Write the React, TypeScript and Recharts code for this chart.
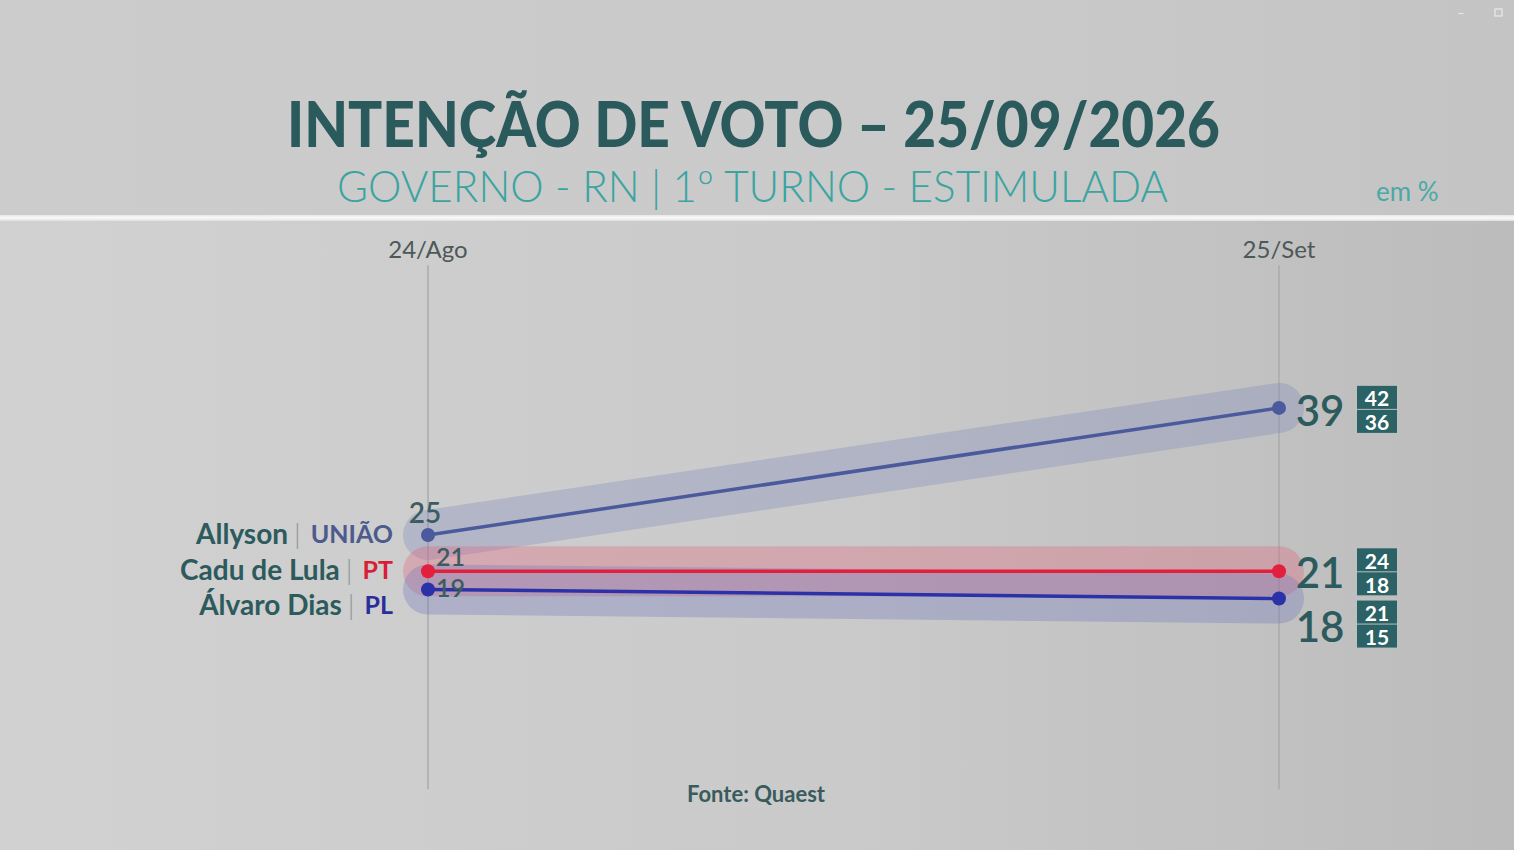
import { LineChart, Line, XAxis, YAxis, ReferenceLine, LabelList } from 'recharts';

const dates = ['24/Ago', '25/Set'];
const allyson = [25, 39];
const cadu = [21, 21];
const alvaro = [19, 18];

// margin of error at the last survey (upper / lower)
const upperBound = [42, 24, 21];
const lowerBound = [36, 18, 15];

const candidates = [
    { key: 'allyson', name: 'Allyson', party: 'UNIÃO', values: allyson },
    { key: 'cadu', name: 'Cadu de Lula', party: 'PT', values: cadu },
    { key: 'alvaro', name: 'Álvaro Dias', party: 'PL', values: alvaro },
];

const chartData = dates.map((date, i) => ({
    date,
    allyson: allyson[i],
    cadu: cadu[i],
    alvaro: alvaro[i],
}));

const TEAL_DARK = '#2c5a5d';
const FONT = 'Lato, "Open Sans", sans-serif';

// styling per candidate (colours, label offsets)
const styles: Record<string, any> = {
    allyson: {
        line: '#4b5a9c', band: '#8088bb', partyColor: '#4c5a8e',
        nameDy: -2, startX: -3, startDy: -23, startAnchor: 'middle',
        endDy: 2, boxDy: -22,
    },
    cadu: {
        line: '#e21f3c', band: '#e4607a', partyColor: '#d81f35',
        nameDy: -2, startX: 8, startDy: -15, startAnchor: 'start',
        endDy: 1, boxDy: -23,
    },
    alvaro: {
        line: '#2b31a6', band: '#7075c0', partyColor: '#2a2e9a',
        nameDy: 15, startX: 8, startDy: -2, startAnchor: 'start',
        endDy: 27, boxDy: 2,
    },
};

function makeLabel(idx: number) {
    const c = candidates[idx];
    const s = styles[c.key];
    return (props: any) => {
        const { x, y, index, value } = props;
        if (index === 0) {
            return (
                <g>
                    <text
                        x={x - 35}
                        y={y + s.nameDy}
                        textAnchor="end"
                        dominantBaseline="central"
                        fontFamily={FONT}
                        fontWeight={700}
                        fontSize={28}
                        fill={TEAL_DARK}
                    >
                        <tspan>{c.name}</tspan>
                        <tspan fill="#8a9596" fontWeight={300} dx={6}>|</tspan>
                        <tspan fill={s.partyColor} dx={10} fontSize={25}>{c.party}</tspan>
                    </text>
                    <text
                        x={x + s.startX}
                        y={y + s.startDy}
                        textAnchor={s.startAnchor}
                        dominantBaseline="central"
                        fontFamily={FONT}
                        fontWeight={600}
                        fontSize={idx === 0 ? 28 : 25}
                        fill="#3b5d61"
                    >
                        {value}
                    </text>
                </g>
            );
        }
        const boxX = x + 78;
        const boxY = y + s.boxDy;
        return (
            <g>
                <text
                    x={x + 41}
                    y={y + s.endDy}
                    textAnchor="middle"
                    dominantBaseline="central"
                    fontFamily={FONT}
                    fontWeight={600}
                    fontSize={42}
                    fill={TEAL_DARK}
                >
                    {value}
                </text>
                <rect x={boxX} y={boxY} width={40} height={23} fill="#2b6265" />
                <rect x={boxX} y={boxY + 24} width={40} height={23} fill="#2b6265" />
                <text x={boxX + 20} y={boxY + 12} textAnchor="middle" dominantBaseline="central"
                    fontFamily={FONT} fontWeight={700} fontSize={21} fill="#ffffff">
                    {upperBound[idx]}
                </text>
                <text x={boxX + 20} y={boxY + 36} textAnchor="middle" dominantBaseline="central"
                    fontFamily={FONT} fontWeight={700} fontSize={21} fill="#ffffff">
                    {lowerBound[idx]}
                </text>
            </g>
        );
    };
}

export default function App() {
    return (
        <div
            style={{
                position: 'fixed',
                left: 0,
                top: 0,
                width: 1514,
                height: 850,
                overflow: 'hidden',
                background: 'linear-gradient(90deg, #d0d1d0 0%, #c9cac9 55%, #bbbcbb 100%)',
            }}
        >
            {/* header band */}
            <div style={{ position: 'absolute', left: 0, top: 0, width: 1514, height: 217, background: 'linear-gradient(90deg, #cbcccb 0%, #c9cac9 60%, #c3c4c3 100%)' }} />
            <div style={{ position: 'absolute', left: 0, top: 215, width: 1514, height: 6, background: 'linear-gradient(180deg, #e6e7e6, #fafafa 50%, #dedfde)' }} />

            <div style={{ position: 'absolute', left: 0, top: 0 }}>
                <LineChart width={1514} height={850} data={chartData} margin={{ top: 278, right: 235, bottom: 88, left: 428 }}>
                    <XAxis
                        dataKey="date"
                        orientation="top"
                        height={30}
                        axisLine={false}
                        tickLine={false}
                        tickSize={0}
                        tickMargin={50}
                        tick={{ fill: '#4d5859', fontSize: 24, fontFamily: FONT }}
                    />
                    <YAxis hide domain={[0, 50]} />
                    {dates.map((d) => (
                        <ReferenceLine
                            key={d}
                            segment={[{ x: d, y: -3 }, { x: d, y: 54.7 }]}
                            stroke="#a9abaa"
                            strokeWidth={1.5}
                            ifOverflow="visible"
                        />
                    ))}
                    {candidates.map((c) => (
                        <Line
                            key={c.key + '-band'}
                            dataKey={c.key}
                            stroke={styles[c.key].band}
                            strokeOpacity={0.33}
                            strokeWidth={50}
                            strokeLinecap="round"
                            dot={false}
                            activeDot={false}
                            legendType="none"
                            isAnimationActive={false}
                        />
                    ))}
                    {candidates.map((c, i) => (
                        <Line
                            key={c.key}
                            dataKey={c.key}
                            stroke={styles[c.key].line}
                            strokeWidth={3.5}
                            dot={{ r: 7, fill: styles[c.key].line, stroke: 'none' }}
                            activeDot={false}
                            isAnimationActive={false}
                        >
                            <LabelList dataKey={c.key} content={makeLabel(i)} />
                        </Line>
                    ))}
                </LineChart>
            </div>

            <svg width={1514} height={850} style={{ position: 'absolute', left: 0, top: 0, pointerEvents: 'none' }}>
                <text x={287} y={147} textLength={933} lengthAdjust="spacingAndGlyphs" fontFamily={FONT} fontWeight={900} fontSize={62} fill="#2b5a5d">
                    INTENÇÃO DE VOTO – 25/09/2026
                </text>
                <text x={337} y={202} textLength={831} lengthAdjust="spacingAndGlyphs" fontFamily={FONT} fontWeight={300} fontSize={44} fill="#3aa4a1">
                    GOVERNO - RN | 1º TURNO - ESTIMULADA
                </text>
                <text x={1376} y={201} fontFamily={FONT} fontSize={26} fill="#4aa9a6">em %</text>
                <text x={756} y={802} textAnchor="middle" fontFamily={FONT} fontWeight={700} fontSize={22} fill="#3a5b5e">
                    Fonte: Quaest
                </text>
                <text x={1461} y={17} textAnchor="middle" fontFamily={FONT} fontSize={12} fill="#f2f2f2">–</text>
                <rect x={1495} y={9} width={7} height={7} fill="none" stroke="#f2f2f2" strokeWidth={1} />
            </svg>
        </div>
    );
}
